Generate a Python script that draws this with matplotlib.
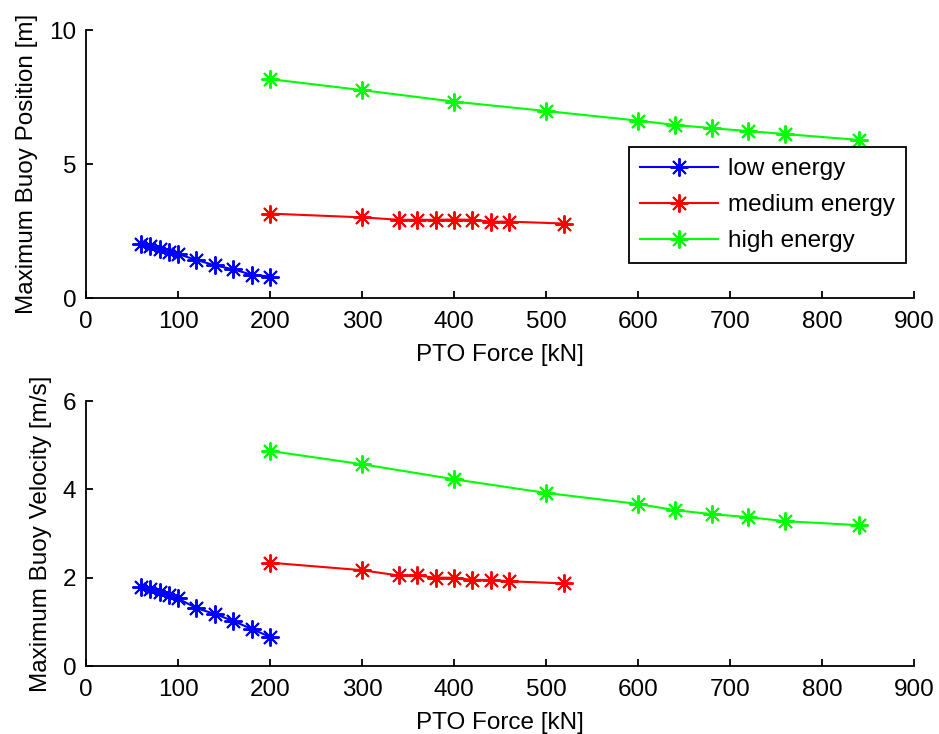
import matplotlib
matplotlib.use("Agg")
import matplotlib.pyplot as plt

plt.rcParams['font.family'] = ['Liberation Sans', 'DejaVu Sans']

# PTO force settings for each sea state [kN]
force_low = [60, 70, 80, 90, 100, 120, 140, 160, 180, 200]
force_med = [200, 300, 340, 360, 380, 400, 420, 440, 460, 520]
force_high = [200, 300, 400, 500, 600, 640, 680, 720, 760, 840]

# maximum buoy position [m]
pos_low = [2.01, 1.93, 1.84, 1.72, 1.64, 1.42, 1.22, 1.07, 0.87, 0.80]
pos_med = [3.15, 3.01, 2.92, 2.92, 2.92, 2.93, 2.92, 2.85, 2.85, 2.78]
pos_high = [8.17, 7.76, 7.33, 6.98, 6.62, 6.46, 6.34, 6.23, 6.12, 5.90]

# maximum buoy velocity [m/s]
vel_low = [1.79, 1.74, 1.67, 1.61, 1.53, 1.31, 1.18, 1.02, 0.84, 0.66]
vel_med = [2.34, 2.17, 2.05, 2.05, 2.00, 2.00, 1.95, 1.95, 1.92, 1.87]
vel_high = [4.87, 4.57, 4.23, 3.92, 3.67, 3.53, 3.44, 3.37, 3.28, 3.19]

labels = ['low energy', 'medium energy', 'high energy']
colors = ['#0000ff', '#ff0000', '#00ff00']
FS = 17.5
STAR = (8, 2, 0)   # 8-spoke asterisk marker


def style_axes(ax, yticks, ylabel):
    ax.set_xlim(0, 900)
    ax.set_xticks(range(0, 901, 100))
    ax.set_ylim(yticks[0], yticks[-1])
    ax.set_yticks(yticks)
    ax.spines['top'].set_visible(False)
    ax.spines['right'].set_visible(False)
    for s in ['left', 'bottom']:
        ax.spines[s].set_linewidth(1.3)
    ax.tick_params(direction='in', length=5, width=1.3, labelsize=FS, pad=7)
    ax.tick_params(axis='x', pad=9)
    ax.set_xlabel('PTO Force [kN]', fontsize=FS, labelpad=8)
    ax.set_ylabel(ylabel, fontsize=FS, labelpad=8)


fig = plt.figure(figsize=(9.39, 7.34), dpi=100)
ax1 = fig.add_axes([0.0916, 0.594, 0.8818, 0.365])
ax2 = fig.add_axes([0.0916, 0.0926, 0.8818, 0.361])

top = [(force_low, pos_low), (force_med, pos_med), (force_high, pos_high)]
bot = [(force_low, vel_low), (force_med, vel_med), (force_high, vel_high)]

for (x, y), c, lab in zip(top, colors, labels):
    ax1.plot(x, y, '-', marker=STAR, color=c, lw=1.5, ms=13, mew=1.4, label=lab)
for (x, y), c in zip(bot, colors):
    ax2.plot(x, y, '-', marker=STAR, color=c, lw=1.5, ms=13, mew=1.4)

style_axes(ax1, [0, 5, 10], 'Maximum Buoy Position [m]')
style_axes(ax2, [0, 2, 4, 6], 'Maximum Buoy Velocity [m/s]')

leg = ax1.legend(loc='upper right', bbox_to_anchor=(0.990, 0.563), borderaxespad=0,
                 fontsize=FS, fancybox=False, framealpha=1, edgecolor='black',
                 handlelength=3.2, handletextpad=0.4, labelspacing=0.58,
                 borderpad=0.45)
leg.get_frame().set_linewidth(1.3)

fig.savefig('out.png', dpi=100)
